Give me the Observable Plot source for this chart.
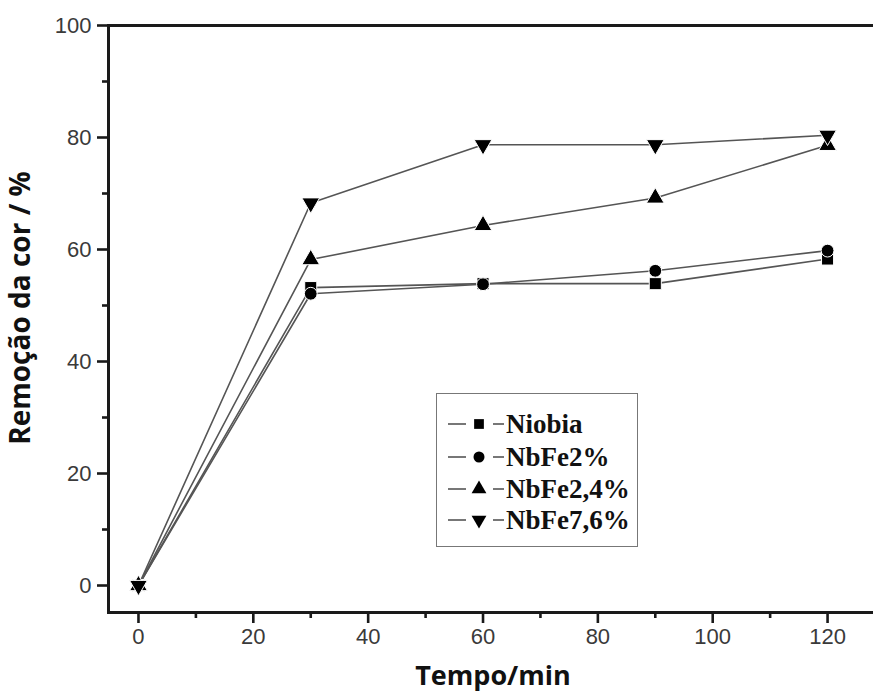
<!DOCTYPE html>
<html><head><meta charset="utf-8">
<script src="https://cdn.jsdelivr.net/npm/d3@7"></script>
<script src="https://cdn.jsdelivr.net/npm/@observablehq/plot@0.6"></script>
<style>
body{margin:0;background:#fff}
#wrap{position:relative;width:873px;height:697px;background:#fff}
#legend{position:absolute;left:436px;top:393px;width:202px;height:154px;box-sizing:border-box;border:1.5px solid #777;background:#fff}
</style>
</head><body><div id="wrap"><div id="legend"></div></div>
<script>
const times = [0, 30, 60, 90, 120];
const seriesNames = ["Niobia", "NbFe2%", "NbFe2,4%", "NbFe7,6%"];
const niobia = [0, 53.2, 53.9, 53.9, 58.3];
const nbfe2  = [0, 52.1, 53.8, 56.2, 59.8];
const nbfe24 = [0, 58.2, 64.3, 69.2, 78.6];
const nbfe76 = [0, 68.3, 78.7, 78.7, 80.4];
const xTicks = [0, 20, 40, 60, 80, 100, 120];
const xMinor = [10, 30, 50, 70, 90, 110];
const yTicks = [0, 20, 40, 60, 80, 100];
const yMinor = [10, 30, 50, 70, 90];
const xTitle = "Tempo/min";
const yTitle = "Remoção da cor / %";

const seriesVals = [niobia, nbfe2, nbfe24, nbfe76];
const symbols = ["square", "circle", "triangle", "triangle"];
const rotations = [0, 0, 0, 180];
const radii = [6.8, 6.4, 6.6, 6.6];

const data = [];
seriesNames.forEach((s, k) => times.forEach((t, i) => data.push({series: s, k, t, v: seriesVals[k][i]})));

const axisColor = "#1a1a1a";
const plot = Plot.plot({
  width: 873, height: 697,
  marginLeft: 108, marginTop: 25, marginRight: 0, marginBottom: 85,
  x: {domain: [-5.22, 128]},
  y: {domain: [-4.82, 100]},
  style: {fontFamily: "'Liberation Sans', Arial, sans-serif", fontSize: "22px", color: "#3a3a3a", background: "#fff", overflow: "visible"},
  marks: [
    Plot.axisX(xTicks, {tickSize: 11, tickPadding: 5, stroke: axisColor, strokeOpacity: 1, strokeWidth: 2.6, label: null}),
    Plot.axisX(xMinor, {tickSize: 6, text: null, stroke: axisColor, strokeOpacity: 1, strokeWidth: 2.6, label: null}),
    Plot.axisY(yTicks, {tickSize: 11, tickPadding: 6, stroke: axisColor, strokeOpacity: 1, strokeWidth: 2.6, label: null}),
    Plot.axisY(yMinor, {tickSize: 6, text: null, stroke: axisColor, strokeOpacity: 1, strokeWidth: 2.6, label: null}),
    Plot.frame({anchor: "left", stroke: axisColor, strokeWidth: 3}),
    Plot.frame({anchor: "bottom", stroke: axisColor, strokeWidth: 3}),
    Plot.frame({anchor: "top", stroke: axisColor, strokeWidth: 3}),
    Plot.line(data, {x: "t", y: "v", z: "series", stroke: "#555", strokeWidth: 1.6}),
    ...seriesNames.map((s, k) => Plot.dot(data.filter(d => d.k === k), {
      x: "t", y: "v", symbol: symbols[k], rotate: rotations[k], r: radii[k],
      fill: "#000", stroke: "#fff", strokeWidth: 1
    })),
    Plot.text([yTitle], {frameAnchor: "left", textAnchor: "middle", lineAnchor: "middle", dx: -87, dy: -11, rotate: -90, fontFamily: "'Open Sans', sans-serif", fontWeight: "bold", fontSize: 28, fill: "#111"}),
    Plot.text([xTitle], {frameAnchor: "bottom", textAnchor: "middle", lineAnchor: "middle", dy: 64, dx: 2, fontFamily: "'Open Sans', sans-serif", fontWeight: "bold", fontSize: 27, fill: "#111"})
  ]
});
const wrap = document.getElementById("wrap");
wrap.insertBefore(plot, wrap.firstChild);

// legend
const lg = d3.select("#legend").append("svg").attr("width", 200).attr("height", 152).style("display", "block");
const rowY = [30, 63, 95, 126];
seriesNames.forEach((s, k) => {
  const g = lg.append("g").attr("transform", `translate(0,${rowY[k]})`);
  g.append("line").attr("x1", 11).attr("x2", 29).attr("y1", 0).attr("y2", 0).attr("stroke", "#555").attr("stroke-width", 1.6);
  g.append("line").attr("x1", 56).attr("x2", 67).attr("y1", 0).attr("y2", 0).attr("stroke", "#555").attr("stroke-width", 1.6);
  const symType = {square: d3.symbolSquare, circle: d3.symbolCircle, triangle: d3.symbolTriangle}[symbols[k]];
  g.append("path").attr("d", d3.symbol(symType, Math.PI * 5.5 * 5.5)())
    .attr("transform", `translate(42,0) rotate(${rotations[k]})`).attr("fill", "#000");
  g.append("text").attr("x", 69).attr("y", 0).attr("dy", "0.35em")
    .attr("font-family", "'Liberation Serif', 'Times New Roman', serif").attr("font-weight", "bold")
    .attr("font-size", 27).attr("fill", "#111").text(s);
});
</script>
</body></html>
